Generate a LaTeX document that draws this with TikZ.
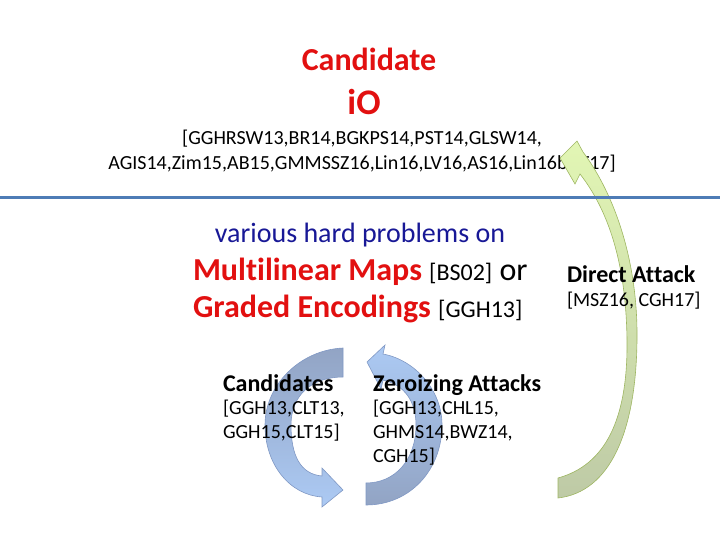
\documentclass[tikz,border=0pt]{standalone}
\usepackage{fontspec}
\setmainfont{Carlito}[Ligatures=NoCommon]
\newcommand{\setsize}[2][]{\fontsize{#2}{#2}\selectfont}
\definecolor{titlered}{RGB}{226,16,16}
\definecolor{textblue}{RGB}{24,24,150}
\definecolor{rulecol}{RGB}{78,124,182}
\definecolor{cycdark}{RGB}{146,164,196}
\definecolor{cyclight}{RGB}{172,202,244}
\definecolor{cycline}{RGB}{128,152,196}
\definecolor{greentop}{RGB}{226,246,180}
\definecolor{greenbot}{RGB}{190,202,166}
\definecolor{greenline}{RGB}{158,182,98}

\begin{document}
\begin{tikzpicture}[x=1pt,y=-1pt,
  every node/.style={inner sep=0pt,outer sep=0pt},
  title/.style={font=\setsize{32}\bfseries,text=titlered,anchor=base},
  cite/.style={font=\setsize{20},anchor=base},
  head/.style={font=\setsize{24}\bfseries,anchor=base west},
  refs/.style={font=\fontsize{20}{24}\selectfont,anchor=north west,align=left},
  cycarrow/.style={draw=cycline,line width=0.6pt},
  greenarrow/.style={draw=greenline,line width=0.6pt,top color=greentop,bottom color=greenbot}]
  \useasboundingbox (0,0) rectangle (720,540);

  % Title and citations
  \node[title] (cand) at (369,70.5) {Candidate};
  \node[title,font=\setsize{36}\bfseries] (io) at (364,115) {iO};
  \node[cite] (citeA) at (362,145) {[GGHRSW13,BR14,BGKPS14,PST14,GLSW14,};
  \node[cite] (citeB) at (362,170) {AGIS14,Zim15,AB15,GMMSSZ16,Lin16,LV16,AS16,Lin16b,LT17]};

  % Direct attack arrow
  \draw[greenarrow] (558,478) .. controls (605,465) and (628,420) .. (627,340)
    .. controls (626,262) and (608,210) .. (580,174) -- (575,184) -- (560,158)
    -- (577,141) -- (583,152) .. controls (615,195) and (638,262) .. (637,340)
    .. controls (636,432) and (610,492) .. (558,498) -- cycle;

  % Separator
  \draw[rulecol,line width=3pt] (0,198) -- (720,198);

  % Middle block
  \node[font=\setsize{28},text=textblue,anchor=base] (various) at (360,242) {various hard problems on};
  \node[font=\setsize{32},anchor=base west] (mmaps) at (193,280)
    {\textcolor{titlered}{\bfseries Multilinear Maps} {\setsize{24}[BS02]} or};
  \node[font=\setsize{32},anchor=base west] (genc) at (193,317)
    {\textcolor{titlered}{\bfseries Graded Encodings} {\setsize{24}[GGH13]}};

  \node[head] (direct) at (567,282) {Direct Attack};
  \node[refs] (directref) at (567,292) {[MSZ16, CGH17]};

  % Cycle arrows
  \draw[cycarrow,top color=cycdark,bottom color=cyclight] (343,348)
    .. controls (300,350) and (265,385) .. (265,425)
    .. controls (265,465) and (290,495) .. (322,497) -- (322,507) -- (343,490)
    -- (322,468) -- (322,476) .. controls (300,474) and (291,455) .. (291,425)
    .. controls (291,395) and (312,377) .. (343,377) -- cycle;
  \draw[cycarrow,top color=cyclight,bottom color=cycdark] (366,505)
    .. controls (410,505) and (442,470) .. (442,425)
    .. controls (442,390) and (415,360) .. (383,354) -- (385,345) -- (367,362)
    -- (381,389) -- (383,380) .. controls (405,385) and (416,402) .. (416,425)
    .. controls (416,460) and (395,483) .. (366,483) -- cycle;

  % Candidates and attacks
  \node[head] (cands) at (223,391) {Candidates};
  \node[refs] (candsref) at (223,400) {[GGH13,CLT13,\\GGH15,CLT15]};
  \node[head] (zero) at (373,391) {Zeroizing Attacks};
  \node[refs] (zeroref) at (373,400) {[GGH13,CHL15,\\GHMS14,BWZ14,\\CGH15]};
\end{tikzpicture}
\end{document}
